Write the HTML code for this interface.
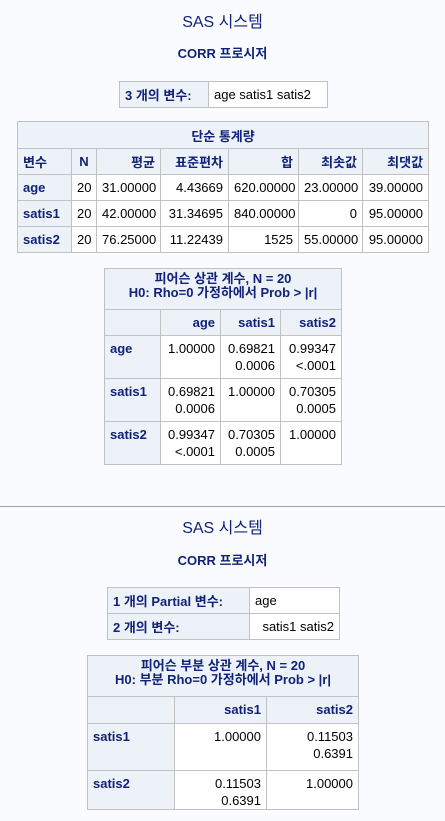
<!DOCTYPE html>
<html><head><meta charset="utf-8">
<style>
html,body{margin:0;padding:0;}
body{width:445px;height:821px;background:#fafbfe;position:relative;overflow:hidden;font-family:"Liberation Sans","Noto Sans CJK KR",sans-serif;font-size:13px;color:#000;}
.t{position:absolute;left:0;width:445px;text-align:center;color:#112277;}
table{position:absolute;border-collapse:collapse;table-layout:fixed;}
td,th{border:1px solid #c1c1c1;padding:0 5px;white-space:nowrap;overflow:hidden;}
th{background:#edf2f9;color:#112277;font-weight:bold;}
td{background:#fff;text-align:right;}
th.l{text-align:left;}
th.r{text-align:right;}
.v td,.v th{vertical-align:top;padding-top:4px;line-height:17px;}
.sep{position:absolute;left:0;width:445px;top:506px;height:1px;background:#a0a0a0;}
</style></head><body>
<div class="t" style="top:8px;font-size:16px;">SAS 시스템</div>
<div class="t" style="top:43px;font-weight:bold;">CORR 프로시저</div>

<table style="left:119px;top:81px;width:208px;">
<col style="width:89px"><col style="width:119px">
<tr style="height:26px"><th class="l">3 개의 변수:</th><td style="text-align:left">age satis1 satis2</td></tr>
</table>

<table style="left:17px;top:121px;width:411px;">
<col style="width:54px"><col style="width:25px"><col style="width:64px"><col style="width:68px"><col style="width:70px"><col style="width:64px"><col style="width:66px">
<tr style="height:27px"><th colspan="7">단순 통계량</th></tr>
<tr style="height:26px"><th class="l">변수</th><th>N</th><th class="r">평균</th><th class="r">표준편차</th><th class="r">합</th><th class="r">최솟값</th><th class="r">최댓값</th></tr>
<tr style="height:26px"><th class="l">age</th><td>20</td><td>31.00000</td><td>4.43669</td><td>620.00000</td><td>23.00000</td><td>39.00000</td></tr>
<tr style="height:26px"><th class="l">satis1</th><td>20</td><td>42.00000</td><td>31.34695</td><td>840.00000</td><td>0</td><td>95.00000</td></tr>
<tr style="height:26px"><th class="l">satis2</th><td>20</td><td>76.25000</td><td>11.22439</td><td>1525</td><td>55.00000</td><td>95.00000</td></tr>
</table>

<table class="v" style="left:104px;top:268px;width:237px;">
<col style="width:56px"><col style="width:60px"><col style="width:60px"><col style="width:61px">
<tr style="height:41px"><th colspan="4" style="text-align:center;line-height:14px;padding-top:3px;">피어슨 상관 계수, N = 20<br>H0: Rho=0 가정하에서 Prob &gt; |r|</th></tr>
<tr style="height:26px"><th></th><th class="r">age</th><th class="r">satis1</th><th class="r">satis2</th></tr>
<tr style="height:43px"><th class="l">age</th><td>1.00000</td><td>0.69821<br>0.0006</td><td>0.99347<br>&lt;.0001</td></tr>
<tr style="height:43px"><th class="l">satis1</th><td>0.69821<br>0.0006</td><td>1.00000</td><td>0.70305<br>0.0005</td></tr>
<tr style="height:43px"><th class="l">satis2</th><td>0.99347<br>&lt;.0001</td><td>0.70305<br>0.0005</td><td>1.00000</td></tr>
</table>

<div class="sep"></div>

<div class="t" style="top:514px;font-size:16px;">SAS 시스템</div>
<div class="t" style="top:550px;font-weight:bold;">CORR 프로시저</div>

<table style="left:107px;top:587px;width:232px;">
<col style="width:142px"><col style="width:90px">
<tr style="height:26px"><th class="l">1 개의 Partial 변수:</th><td style="text-align:left">age</td></tr>
<tr style="height:26px"><th class="l">2 개의 변수:</th><td>satis1 satis2</td></tr>
</table>

<table class="v" style="left:87px;top:655px;width:271px;">
<col style="width:87px"><col style="width:92px"><col style="width:92px">
<tr style="height:41px"><th colspan="3" style="text-align:center;line-height:14px;padding-top:3px;">피어슨 부분 상관 계수, N = 20<br>H0: 부분 Rho=0 가정하에서 Prob &gt; |r|</th></tr>
<tr style="height:27px"><th></th><th class="r">satis1</th><th class="r">satis2</th></tr>
<tr style="height:47px"><th class="l">satis1</th><td>1.00000</td><td>0.11503<br>0.6391</td></tr>
<tr style="height:38px"><th class="l">satis2</th><td>0.11503<br>0.6391</td><td>1.00000</td></tr>
</table>
</body></html>
